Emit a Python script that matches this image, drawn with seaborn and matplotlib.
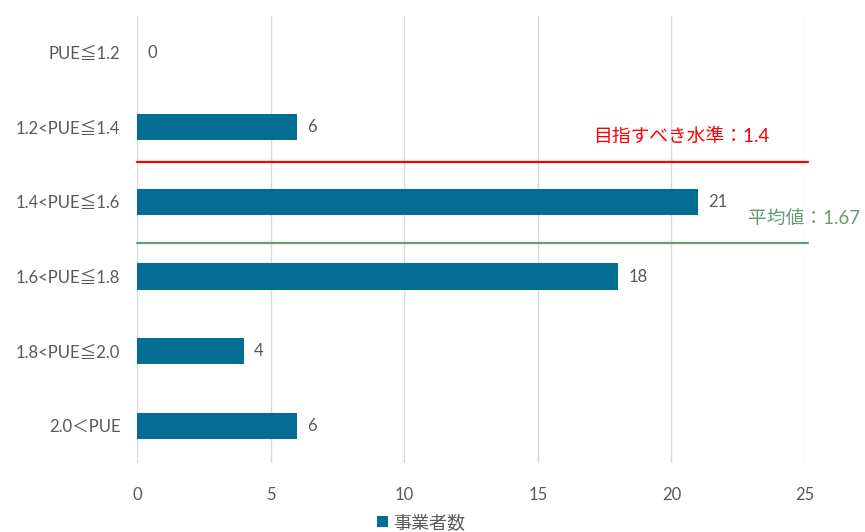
import matplotlib
matplotlib.use("Agg")
import matplotlib.pyplot as plt
import seaborn as sns
import pandas as pd

# PUE bands and number of operators in each band
categories = ["PUE≦1.2", "1.2<PUE≦1.4", "1.4<PUE≦1.6", "1.6<PUE≦1.8", "1.8<PUE≦2.0", "2.0＜PUE"]
counts = [0, 6, 21, 18, 4, 6]
series_name = "事業者数"

# Reference lines (position on the category axis) and their captions
target_label = "目指すべき水準：1.4"
target_pos = 1.46
average_label = "平均値：1.67"
average_pos = 2.55

x_ticks = [0, 5, 10, 15, 20, 25]

BAR = "#036E93"
TEXT = "#595959"
RED = "#FF0000"
GREEN = "#6A9A74"

sns.set_theme(style="white")
plt.rcParams["font.family"] = ["Lato", "Noto Sans CJK JP", "DejaVu Sans"]

df = pd.DataFrame({"band": categories, "count": counts})

fig = plt.figure(figsize=(8.65, 5.32), dpi=100)
ax = fig.add_axes([137 / 865, 1 - 463 / 532, 668 / 865, 447.5 / 532])

sns.barplot(data=df, y="band", x="count", orient="h", color=BAR, width=0.35,
            saturation=1, label=series_name, ax=ax, zorder=3, linewidth=0)

ax.set_xlim(0, 25)
ax.set_ylim(5.5, -0.5)
ax.set_xticks(x_ticks)
ax.set_xticklabels([str(t) for t in x_ticks])
ax.set_xlabel("")
ax.set_ylabel("")
ax.grid(axis="x", color="#D9D9D9", linewidth=1, zorder=0)
ax.set_axisbelow(True)
for s in ax.spines.values():
    s.set_visible(False)
ax.tick_params(axis="both", length=0, labelsize=12, labelcolor=TEXT)
ax.tick_params(axis="y", pad=12)
ax.tick_params(axis="x", pad=17)

# Value labels at the bar ends
for i, v in enumerate(counts):
    ax.text(v + 0.38, i, str(v), va="center", ha="left", fontsize=12, color=TEXT)

# Reference lines
ax.plot([0, 25.1], [target_pos, target_pos], color=RED, linewidth=1.6, zorder=4, clip_on=False)
ax.plot([0, 25.1], [average_pos, average_pos], color=GREEN, linewidth=1.6, zorder=4, clip_on=False)
ax.text(17.05, 1.12, target_label, color=RED, fontsize=13.5, va="center", ha="left", zorder=5)
ax.text(22.85, 2.22, average_label, color=GREEN, fontsize=13.5, va="center", ha="left",
        zorder=5, clip_on=False,
        bbox=dict(facecolor="white", edgecolor="none", pad=1.5))

leg = ax.legend(loc="center", bbox_to_anchor=(0.425, -0.133), frameon=False,
                fontsize=13, handlelength=0.6, handleheight=0.6, handletextpad=0.3,
                labelcolor=TEXT)

fig.savefig("out.png", dpi=100)
